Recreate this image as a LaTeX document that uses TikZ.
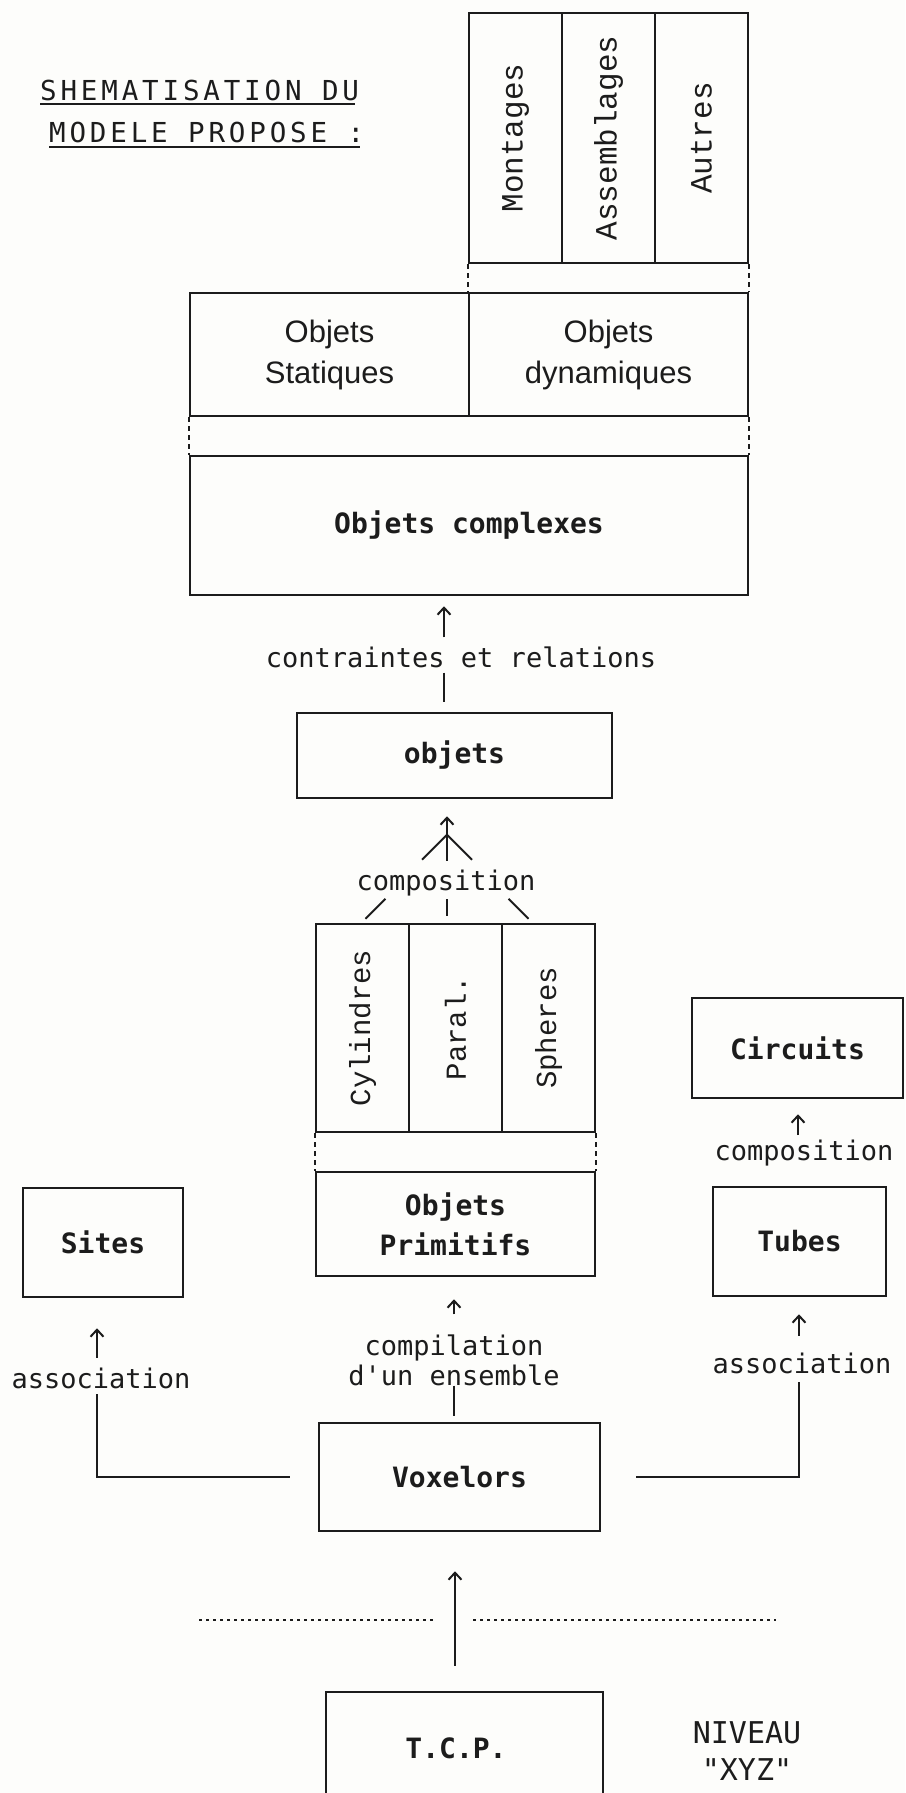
\documentclass[tikz,border=0pt]{standalone}
\usepackage{fontspec}
\usepackage{tikz}
\usetikzlibrary{arrows.meta,calc}
\newfontfamily\dotFont{DejaVu Sans Mono}
\newfontfamily\wideFont[LetterSpace=14]{DejaVu Sans Mono}
\newfontfamily\typeFont{Liberation Mono}
\newfontfamily\thinFont{Liberation Sans}
\definecolor{ink}{HTML}{1C1C1C}
\definecolor{paper}{HTML}{FDFDFB}
\tikzset{
  cellBox/.style={draw=ink, line width=2.5pt, inner sep=0pt, text=ink},
  boxLbl/.style={font=\dotFont\bfseries\fontsize{28}{40}\selectfont, align=center},
  rotLbl/.style={font=\typeFont\fontsize{31}{36}\selectfont},
  rotLblSmall/.style={font=\typeFont\fontsize{29}{34}\selectfont},
  thinLbl/.style={font=\thinFont\fontsize{31}{41}\selectfont, align=center},
  linkLbl/.style={font=\dotFont\fontsize{27}{30}\selectfont, text=ink, inner sep=0pt, align=center},
  titleLbl/.style={font=\wideFont\fontsize{27.5}{34}\selectfont, text=ink, inner sep=0pt},
  link/.style={draw=ink, line width=2pt},
  upArrow/.style={draw=ink, line width=2pt, -{Straight Barb[length=7pt,width=13pt]}},
  dashLink/.style={draw=ink, line width=2pt, dash pattern=on 5pt off 4pt},
  dotRow/.style={draw=ink, line width=2.5pt, dash pattern=on 2.5pt off 4.5pt},
  uline/.style={draw=ink, line width=2.5pt},
}

\begin{document}
\begin{tikzpicture}[x=1pt, y=-1pt]
  \useasboundingbox (0,0) rectangle (905,1793);
  \fill[paper] (0,0) rectangle (905,1793);

  % titre
  \node[titleLbl, anchor=base west] (titleA) at (40,100) {SHEMATISATION DU};
  \node[titleLbl, anchor=base west] (titleB) at (49,142) {MODELE PROPOSE :};
  \draw[uline] ([yshift=-4pt]titleA.base west) -- ([xshift=-4pt,yshift=-4pt]titleA.base east);
  \draw[uline] ([yshift=-5pt]titleB.base west) -- ([xshift=-4pt,yshift=-5pt]titleB.base east);

  % objets dynamiques
  \node[cellBox, rotLbl, minimum width=93pt, minimum height=250pt] (cMont) at (515.5,138) {\rotatebox{90}{Montages}};
  \node[cellBox, rotLbl, minimum width=93pt, minimum height=250pt] (cAss) at (608.5,138) {\rotatebox{90}{Assemblages}};
  \node[cellBox, rotLbl, minimum width=93pt, minimum height=250pt] (cAut) at (701.5,138) {\rotatebox{90}{Autres}};

  \node[cellBox, thinLbl, minimum width=279pt, minimum height=123pt] (cStat) at (329.5,354.5) {Objets\\Statiques};
  \node[cellBox, thinLbl, minimum width=279pt, minimum height=123pt] (cDyn) at (608.5,354.5) {Objets\\dynamiques};
  \draw[dashLink] (cMont.south west) -- (cDyn.north west);
  \draw[dashLink] (cAut.south east) -- (cDyn.north east);

  \node[cellBox, boxLbl, minimum width=558pt, minimum height=139pt] (complexes) at (469,525.5) {Objets complexes};
  \draw[dashLink] (cStat.south west) -- (complexes.north west);
  \draw[dashLink] (cDyn.south east) -- (complexes.north east);

  % objets
  \node[linkLbl] (lblCR) at (461,657) {contraintes et relations};
  \node[cellBox, boxLbl, minimum width=315pt, minimum height=85pt] (objets) at (454.5,755.5) {objets};
  \draw[upArrow, shorten <=9pt, shorten >=10pt] ([xshift=-17pt]lblCR.north) -- ([xshift=-17pt]lblCR.north |- complexes.south);
  \draw[link, shorten <=5pt, shorten >=10pt] ([xshift=-17pt]lblCR.south) -- ([xshift=-17pt]lblCR.south |- objets.north);

  % primitives
  \node[linkLbl] (lblComp) at (446,883) {composition};
  \node[cellBox, rotLblSmall, minimum width=93pt, minimum height=208pt] (cCyl) at (362.5,1028) {\rotatebox{90}{Cylindres}};
  \node[cellBox, rotLblSmall, minimum width=93pt, minimum height=208pt] (cPar) at (455.5,1028) {\rotatebox{90}{Paral.}};
  \node[cellBox, rotLblSmall, minimum width=93pt, minimum height=208pt] (cSph) at (548.5,1028) {\rotatebox{90}{Spheres}};
  \coordinate (fanJ) at ($(lblComp.north)+(1,-35)$);
  \draw[upArrow, shorten <=9pt, shorten >=17pt] ([xshift=1pt]lblComp.north) -- ([xshift=1pt]lblComp.north |- objets.south);
  \draw[link] (fanJ) -- ++(-25,25);
  \draw[link] (fanJ) -- ++(25,25);
  \draw[link] ([xshift=3pt,yshift=4pt]cCyl.north) -- ++(20,-20);
  \draw[link] ([xshift=-8.5pt,yshift=7pt]cPar.north) -- ++(0,-17);
  \draw[link] ([xshift=-20pt,yshift=4pt]cSph.north) -- ++(-20,-20);

  \node[cellBox, boxLbl, minimum width=279pt, minimum height=104pt] (prim) at (455.5,1224) {Objets\\Primitifs};
  \draw[dashLink] (cCyl.south west) -- (prim.north west);
  \draw[dashLink] (cSph.south east) -- (prim.north east);

  % sites, tubes, circuits
  \node[cellBox, boxLbl, minimum width=211pt, minimum height=100pt] (circuits) at (797.5,1048) {Circuits};
  \node[linkLbl] (lblComp2) at (804,1153) {composition};
  \node[cellBox, boxLbl, minimum width=173pt, minimum height=109pt] (tubes) at (799.5,1241.5) {Tubes};
  \node[cellBox, boxLbl, minimum width=160pt, minimum height=109pt] (sites) at (103,1242.5) {Sites};
  \draw[upArrow, shorten <=4.5pt, shorten >=15pt] ([xshift=-6pt]lblComp2.north) -- ([xshift=-6pt]lblComp2.north |- circuits.south);

  % voxelors
  \node[linkLbl] (lblCompil) at (454,1360) {compilation\\d'un ensemble};
  \node[linkLbl] (lblAssocL) at (101,1378) {association};
  \node[linkLbl] (lblAssocR) at (802,1363) {association};
  \node[cellBox, boxLbl, minimum width=281pt, minimum height=108pt] (voxel) at (459.5,1477) {Voxelors};

  \draw[upArrow, shorten <=20pt, shorten >=22pt] (lblCompil.north) -- (lblCompil.north |- prim.south);
  \draw[link, shorten >=6pt] (lblCompil.south) -- (lblCompil.south |- voxel.north);

  \draw[upArrow, shorten <=9.5pt, shorten >=30pt] ([xshift=-4pt]lblAssocL.north) -- ([xshift=-4pt]lblAssocL.north |- sites.south);
  \draw[link, shorten <=28pt, shorten >=5.5pt] (voxel.west) -| ([xshift=-4pt]lblAssocL.south);

  \draw[upArrow, shorten <=16.5pt, shorten >=17pt] ([xshift=-3pt]lblAssocR.north) -- ([xshift=-3pt]lblAssocR.north |- tubes.south);
  \draw[link, shorten <=35pt, shorten >=8.5pt] (voxel.east) -| ([xshift=-3pt]lblAssocR.south);

  % niveau XYZ
  \draw[dotRow] (199,1620) -- (436,1620);
  \draw[dotRow] (473,1620) -- (776,1620);
  \node[cellBox, boxLbl, minimum width=277pt, minimum height=140pt] (tcp) at (464.5,1762) {};
  \node[boxLbl, text=ink] (tcpLbl) at (456,1748) {T.C.P.};
  \node[linkLbl, font=\dotFont\fontsize{30}{37}\selectfont] (niveau) at (747,1751) {NIVEAU\\"XYZ"};
  \draw[upArrow, shorten <=25pt, shorten >=39pt] ([xshift=-4.5pt]voxel.south |- tcp.north) -- ([xshift=-4.5pt]voxel.south);
\end{tikzpicture}
\end{document}
